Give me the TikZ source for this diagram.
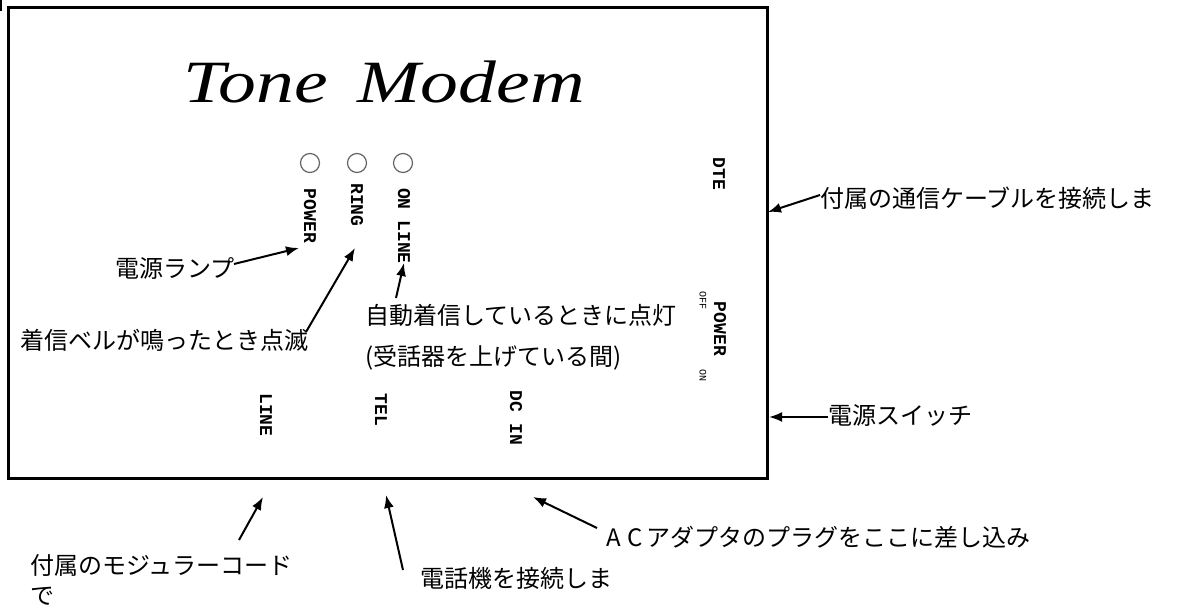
\documentclass[tikz,border=0pt]{standalone}
\usepackage{fontspec}
\usetikzlibrary{arrows.meta}
\newfontfamily\jpfont{Noto Sans CJK JP}
\newfontfamily\titlefont{Liberation Serif}
\newfontfamily\panelfont{Liberation Mono}
\tikzset{
  jp/.style={font=\jpfont\fontsize{24}{30}\selectfont, inner sep=0pt, anchor=west, align=left},
  panel/.style={font=\panelfont\bfseries\fontsize{18}{18}\selectfont, rotate=-90, inner sep=0pt},
  small/.style={font=\panelfont\fontsize{10}{10}\selectfont, rotate=-90, inner sep=0pt},
  led/.style={circle, draw=black!60, line width=1.2pt, minimum size=19pt, inner sep=0pt},
  callout/.style={line width=2pt, -{Latex[length=13pt,width=10pt]}},
}
\begin{document}
\begin{tikzpicture}[x=1pt,y=-1pt]
\useasboundingbox (0,0) rectangle (1177,609);
% case
\draw[line width=3pt] (8,8) rectangle (767,478);
\draw[line width=2pt] (1,0) -- (1,11);
% title
\node[font=\titlefont\itshape\fontsize{60}{60}\selectfont, inner sep=0pt] (title) at (384,82) {\scalebox{1.26}[1]{Tone\hspace{9pt} Modem}};
% LEDs
\node[led] (ledp) at (310,163) {};
\node[led] (ledr) at (357,163) {};
\node[led] (ledo) at (403,163) {};
% panel labels
\node[panel] (power) at (310,216) {POWER};
\node[panel] (ring) at (357,205) {RING};
\node[panel] (online) at (404,226) {ON LINE};
\node[panel] (dte) at (719,174) {DTE};
\node[panel] (pwsw) at (720,329) {POWER};
\node[small] (off) at (703,301) {OFF};
\node[small] (on) at (703,376) {ON};
\node[panel] (line) at (266,415) {LINE};
\node[panel] (tel) at (381,410) {TEL};
\node[panel] (dcin) at (516,418) {DC IN};
% annotations
\node[jp] (tlamp) at (115,268) {電源ランプ};
\node[jp] (tring) at (20,340) {着信ベルが鳴ったとき点滅};
\node[jp, font=\jpfont\fontsize{24}{41}\selectfont] (tauto) at (365,337) {自動着信しているときに点灯\\(受話器を上げている間)};
\node[jp] (tdte) at (820,198) {付属の通信ケーブルを接続しま};
\node[jp] (tsw) at (828,415) {電源スイッチ};
\node[jp, font=\jpfont\fontsize{24}{30}\selectfont] (tmod) at (30,580) {付属のモジュラーコード\\で};
\node[jp] (ttel) at (420,578) {電話機を接続しま};
\node[jp] (tac) at (606,537) {A\hspace{7pt}C\hspace{3pt}アダプタのプラグをここに差し込み};
% arrow ends
\coordinate (alamp0) at (234,264);  \coordinate (alamp1) at (299,248);
\coordinate (aring0) at (306,332);  \coordinate (aring1) at (355,248);
\coordinate (aauto0) at (396,298);  \coordinate (aauto1) at (404,263);
\coordinate (adte0) at (820,195);   \coordinate (adte1) at (768,212);
\coordinate (asw0) at (828,417);    \coordinate (asw1) at (769,417);
\coordinate (amod0) at (239,540);   \coordinate (amod1) at (263,497);
\coordinate (atel0) at (403,570);   \coordinate (atel1) at (386,495);
\coordinate (aac0) at (597,528);    \coordinate (aac1) at (533,497);
\draw[callout] (alamp0) -- (alamp1);
\draw[callout] (aring0) -- (aring1);
\draw[callout] (aauto0) -- (aauto1);
\draw[callout] (adte0) -- (adte1);
\draw[callout] (asw0) -- (asw1);
\draw[callout] (amod0) -- (amod1);
\draw[callout] (atel0) -- (atel1);
\draw[callout] (aac0) -- (aac1);
\end{tikzpicture}
\end{document}
